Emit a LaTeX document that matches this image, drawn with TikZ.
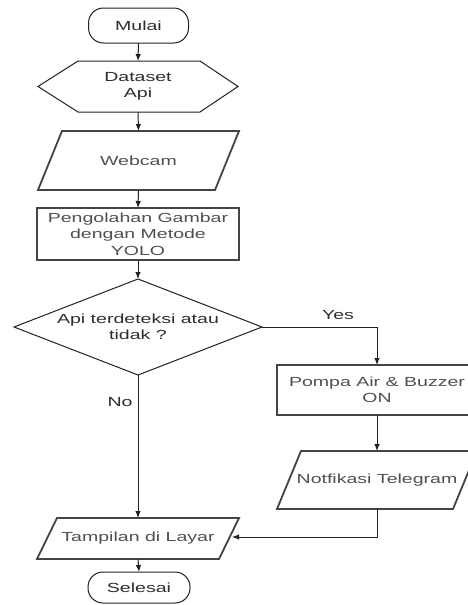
\documentclass[tikz,border=0pt]{standalone}
\usepackage{fontspec}
\setmainfont[FakeStretch=1.48]{Liberation Sans}
\usetikzlibrary{calc,arrows.meta}
\definecolor{txtdark}{HTML}{2E2E2E}
\definecolor{txtgray}{HTML}{505050}
\definecolor{linedark}{HTML}{222222}
\definecolor{boxline}{HTML}{444444}
\tikzset{
  base/.style={inner sep=0pt, outer sep=0pt, align=center, font=\fontsize{13.2}{16.5}\selectfont},
  term/.style={base, draw=linedark, line width=1pt, rounded corners=15pt, text=txtdark},
  procbox/.style={base, draw=boxline, line width=2pt, text=txtgray},
  plain/.style={base, text=txtdark},
  iobox/.style={base, text=txtgray},
  thinline/.style={draw=linedark, line width=1pt},
  thickline/.style={draw=boxline, line width=1.8pt},
  arr/.style={draw=linedark, line width=1pt, -{Latex[length=7pt,width=5.5pt]}},
  lbl/.style={base, text=txtdark}
}
\begin{document}
\begin{tikzpicture}[x=1pt,y=-1pt]
\useasboundingbox[fill=white] (0,0) rectangle (468,605);

% nodes
\node[term, minimum width=100pt, minimum height=35pt] (mulai) at (138.5,25.5) {Mulai};
\node[plain, minimum width=200pt, minimum height=51pt] (data) at (138,86.5) {Dataset\\Api};
\node[iobox, minimum width=201pt, minimum height=59pt] (web) at (138.5,160.5) {Webcam};
\node[procbox, minimum width=202pt, minimum height=52pt] (proc) at (138,234) {Pengolahan Gambar\\dengan Metode\\YOLO};
\node[plain, minimum width=248pt, minimum height=96pt] (dec) at (138,327) {Api terdeteksi atau\\tidak ?};
\node[procbox, minimum width=200pt, minimum height=50pt] (pompa) at (377,390) {Pompa Air \& Buzzer\\ON};
\node[iobox, minimum width=200pt, minimum height=58pt] (notif) at (377,480) {Notfikasi Telegram};
\node[iobox, minimum width=202pt, minimum height=41pt] (tamp) at (138,538.5) {Tampilan di Layar};
\node[term, minimum width=102pt, minimum height=31pt] (sel) at (139,587.5) {Selesai};

% outlines
\draw[thinline] (data.west) -- ($(data.north west)+(40,0)$) -- ($(data.north east)+(-38,0)$)
  -- (data.east) -- ($(data.south east)+(-38,0)$) -- ($(data.south west)+(40,0)$) -- cycle;
\draw[thickline] (web.south west) -- ($(web.north west)+(24,0)$) -- (web.north east)
  -- ($(web.south east)+(-24,0)$) -- cycle;
\draw[thinline] (dec.west) -- (dec.north) -- (dec.east) -- (dec.south) -- cycle;
\draw[thickline] (notif.south west) -- ($(notif.north west)+(24,0)$) -- (notif.north east)
  -- ($(notif.south east)+(-24,0)$) -- cycle;
\draw[thickline] (tamp.south west) -- ($(tamp.north west)+(20,0)$) -- (tamp.north east)
  -- ($(tamp.south east)+(-20,0)$) -- cycle;

% connectors
\draw[arr] (mulai.south) -- (data.north);
\draw[arr] (data.south) -- (web.north);
\draw[arr] (web.south) -- (proc.north);
\draw[arr] (proc.south) -- (dec.north);
\draw[arr] (dec.east) -| (pompa.north);
\draw[arr] (pompa.south) -- (notif.north);
\draw[arr] (dec.south) -- (tamp.north);
\coordinate (tampR) at ($(tamp.east)+(-7,-1.5)$);
\draw[arr] (notif.south) |- (tampR);
\draw[arr] (tamp.south) -- (sel.north);

% labels
\node[lbl] (yes) at (338,315) {Yes};
\node[lbl] (no) at (120,402) {No};
\end{tikzpicture}
\end{document}
